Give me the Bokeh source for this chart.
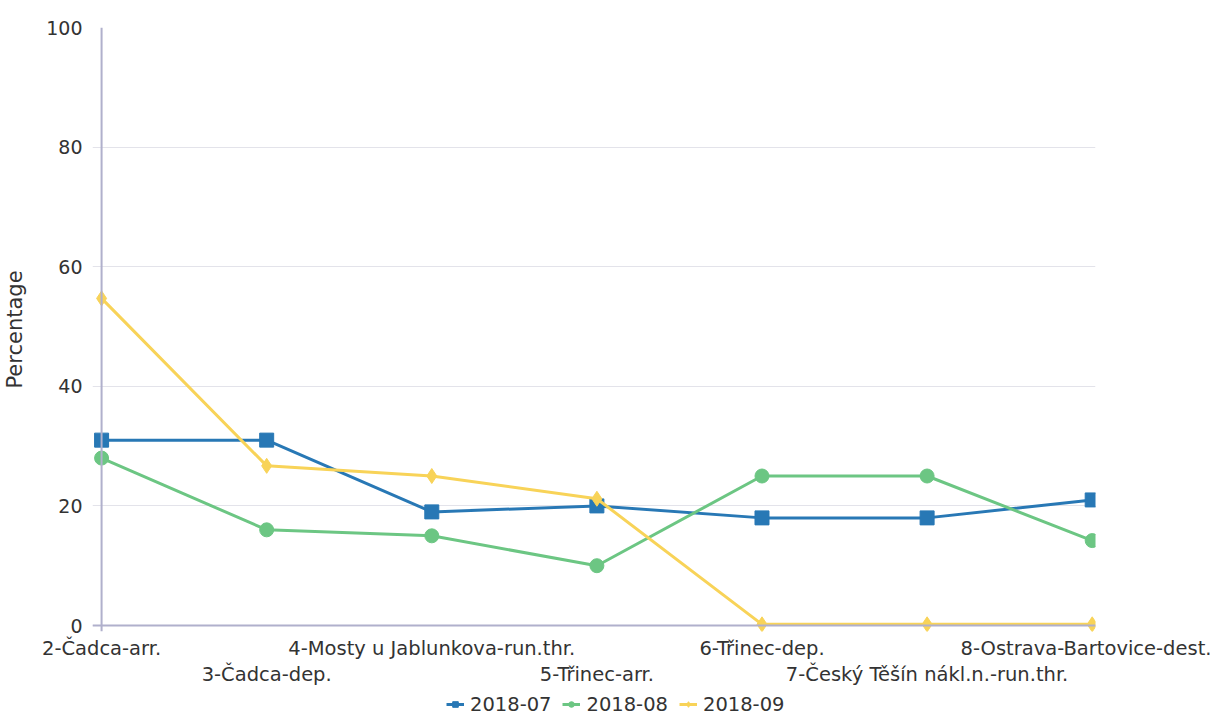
from bokeh.plotting import figure
from bokeh.layouts import column
from bokeh.models import (Range1d, LinearAxis, FixedTicker, Span, Legend, LegendItem)
from bokeh.embed import file_html
from bokeh.resources import INLINE

categories = ["2-Čadca-arr.", "3-Čadca-dep.", "4-Mosty u Jablunkova-run.thr.",
              "5-Třinec-arr.", "6-Třinec-dep.", "7-Český Těšín nákl.n.-run.thr.",
              "8-Ostrava-Bartovice-dest."]
series_names = ["2018-07", "2018-08", "2018-09"]
s2018_07 = [31, 31, 19, 20, 18, 18, 21]
s2018_08 = [28, 16, 15, 10, 25, 25, 14.2]
s2018_09 = [54.7, 26.7, 25, 21.2, 0.2, 0.2, 0.2]
y_ticks = [0, 20, 40, 60, 80, 100]

FONT = "DejaVu Sans"
xs = list(range(len(categories)))
series = [s2018_07, s2018_08, s2018_09]

p = figure(frame_width=1003, frame_height=604, output_backend="svg", toolbar_location=None,
           x_range=Range1d(-0.055, 6.02), y_range=Range1d(-1.0, 100),
           min_border_left=90, min_border_right=116, min_border_top=27,
           min_border_bottom=0, x_axis_location=None)
p.outline_line_color = None
p.background_fill_color = "white"

# y axis
p.yaxis.ticker = FixedTicker(ticks=y_ticks)
p.yaxis.axis_line_color = None
p.yaxis.major_tick_line_color = None
p.yaxis.minor_tick_line_color = None
p.yaxis.major_label_standoff = 4
p.yaxis.major_label_text_font = FONT
p.yaxis.major_label_text_font_size = "19px"
p.yaxis.major_label_text_color = "#333333"
p.yaxis.axis_label = "Percentage"
p.yaxis.axis_label_text_font = FONT
p.yaxis.axis_label_text_font_size = "21px"
p.yaxis.axis_label_text_font_style = "normal"
p.yaxis.axis_label_text_color = "#333333"
p.yaxis.axis_label_standoff = 16
p.ygrid.ticker = FixedTicker(ticks=y_ticks)
p.ygrid.grid_line_color = "#e3e3ea"
p.ygrid.grid_line_width = 1
p.xgrid.grid_line_color = None

# staggered category axes
even = [i for i in xs if i % 2 == 0]
odd = [i for i in xs if i % 2 == 1]
for ticks, standoff in ((even, 5), (odd, 0)):
    ax = LinearAxis(ticker=FixedTicker(ticks=ticks),
                    major_label_overrides={i: categories[i] for i in ticks})
    ax.axis_line_color = None
    ax.major_tick_line_color = None
    ax.minor_tick_line_color = None
    ax.major_tick_in = 0
    ax.major_tick_out = 0
    ax.major_label_standoff = standoff
    ax.major_label_text_font = FONT
    ax.major_label_text_font_size = "19.5px"
    ax.major_label_text_color = "#333333"
    p.add_layout(ax, "below")

blue, green, yellow = "#2878b5", "#6cc683", "#f8d358"
styles = [(blue, "square", 14), (green, "circle", 14), (yellow, "diamond", 15)]
for ys, (col, mk, sz) in zip(series, styles):
    p.line(xs, ys, line_color=col, line_width=3)
    p.scatter(xs, ys, marker=mk, size=sz, fill_color=col, line_color=col)

# axis lines drawn on top
p.add_layout(Span(location=0, dimension="height", line_color="#b0b0cc", line_width=2, level="overlay"))
p.add_layout(Span(location=0, dimension="width", line_color="#b0b0cc", line_width=2, level="overlay"))

# legend strip (its renderers lie outside its visible range; only the legend shows)
lg = figure(width=1209, height=32, output_backend="svg", toolbar_location=None,
            x_axis_location=None, y_axis_location=None, min_border=0,
            x_range=Range1d(0, 6), y_range=Range1d(1000, 1001))
lg.outline_line_color = None
lg.xgrid.grid_line_color = None
lg.ygrid.grid_line_color = None
items = []
for name, ys, (col, mk, sz) in zip(series_names, series, styles):
    rl = lg.line(xs, ys, line_color=col, line_width=3)
    rm = lg.scatter(xs, ys, marker=mk, size=sz * 0.8, fill_color=col, line_color=col)
    items.append(LegendItem(label=name, renderers=[rl, rm]))
legend = Legend(items=items, orientation="horizontal", location=(354, 4))
legend.label_text_font = FONT
legend.label_text_font_size = "19.5px"
legend.label_text_color = "#333333"
legend.label_height = 24
legend.border_line_color = None
legend.background_fill_alpha = 0
legend.glyph_width = 18
legend.glyph_height = 14
legend.label_standoff = 6
legend.spacing = 11
legend.padding = 0
legend.margin = 0
lg.add_layout(legend, "center")

layout = column(p, lg, spacing=0)
open("out.html", "w").write(file_html(layout, INLINE))
